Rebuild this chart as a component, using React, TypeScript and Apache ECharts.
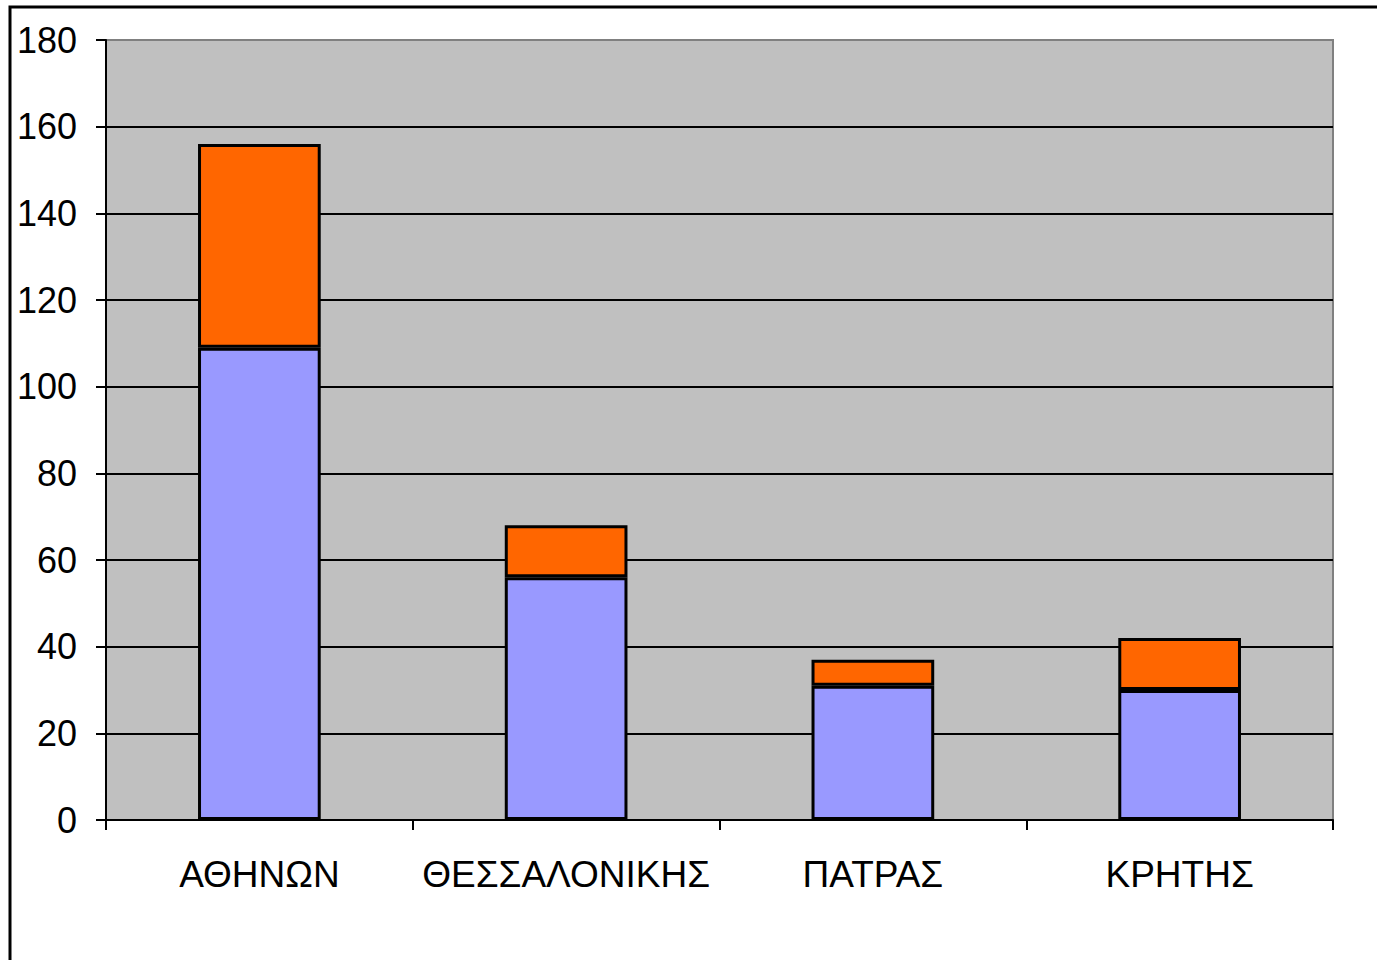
import React, { useEffect, useRef } from "react";
import * as echarts from "echarts";

const categories = ["ΑΘΗΝΩΝ", "ΘΕΣΣΑΛΟΝΙΚΗΣ", "ΠΑΤΡΑΣ", "ΚΡΗΤΗΣ"];
const lowerValues = [109, 56, 31, 30];
const upperValues = [47, 12, 6, 12];
const yTicks = { min: 0, max: 180, interval: 20 };

export default function App() {
  const ref = useRef<HTMLDivElement>(null);
  useEffect(() => {
    if (!ref.current) return;
    const chart = echarts.init(ref.current, null, { renderer: "svg" });
    const font = "'Liberation Sans', Arial, sans-serif";
    chart.setOption({
      animation: false,
      backgroundColor: "#ffffff",
      grid: {
        left: 106,
        top: 40,
        width: 1227,
        height: 780,
        show: true,
        backgroundColor: "#C0C0C0",
        borderColor: "#808080",
        borderWidth: 2,
      },
      graphic: [
        {
          type: "rect",
          shape: { x: 10, y: 7, width: 1500, height: 1200 },
          style: { fill: "none", stroke: "#000", lineWidth: 3 },
          silent: true,
          z: 100,
        },
      ],
      xAxis: {
        type: "category",
        data: categories,
        boundaryGap: true,
        axisLine: { show: true, lineStyle: { color: "#000", width: 2 } },
        axisTick: { show: true, interval: 0, alignWithLabel: false, length: 10, lineStyle: { color: "#000", width: 2 } },
        axisLabel: { interval: 0, color: "#000", fontSize: 37, fontFamily: font, margin: 36 },
        splitLine: { show: false },
      },
      yAxis: {
        type: "value",
        min: yTicks.min,
        max: yTicks.max,
        interval: yTicks.interval,
        axisLine: { show: true, lineStyle: { color: "#000", width: 2 } },
        axisTick: { show: true, length: 10, lineStyle: { color: "#000", width: 2 } },
        axisLabel: { color: "#000", fontSize: 36, fontFamily: font, margin: 29 },
        splitLine: { show: true, showMaxLine: false, lineStyle: { color: "#000", width: 2 } },
      },
      series: [
        {
          type: "bar",
          stack: "total",
          data: lowerValues,
          barWidth: "40%",
          itemStyle: { color: "#9999FF", borderColor: "#000", borderWidth: 3 },
        },
        {
          type: "bar",
          stack: "total",
          data: upperValues,
          barWidth: "40%",
          itemStyle: { color: "#FF6600", borderColor: "#000", borderWidth: 3 },
        },
      ],
    });
    return () => chart.dispose();
  }, []);
  return (
    <div
      ref={ref}
      style={{ position: "absolute", left: 0, top: 0, width: 1377, height: 960 }}
    />
  );
}
